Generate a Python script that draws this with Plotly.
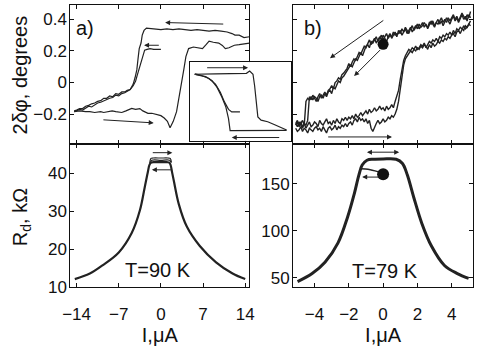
import plotly.graph_objects as go

# ---------------- panel a) : 2dphi vs I (T=90 K) ----------------
a_up_x = [14.7, 13.8, 13.0, 12.3, 11.8, 11.0, 10.0, 9.0, 8.0, 7.0, 6.0, 5.0, 4.0, 3.0, 2.0, 1.0, 0.0, -1.0, -2.0, -2.4,
          -2.8, -3.1, -3.3, -3.6, -3.8, -4.0, -4.3, -4.6, -5.1, -5.6, -6.0, -6.5, -7.0, -7.5, -8.0, -8.5, -9.0, -9.5,
          -10.0, -10.5, -11.0, -11.5, -12.0, -12.5, -13.0, -13.5, -14.0, -14.4]
a_up_y = [0.29, 0.285, 0.30, 0.30, 0.31, 0.32, 0.325, 0.33, 0.325, 0.33, 0.335, 0.33, 0.335, 0.34, 0.335, 0.34, 0.335,
          0.34, 0.345, 0.345, 0.33, 0.30, 0.25, 0.215, 0.15, 0.08, 0.03, -0.01, -0.045, -0.05, -0.06, -0.06, -0.075,
          -0.07, -0.09, -0.085, -0.10, -0.10, -0.115, -0.12, -0.13, -0.135, -0.145, -0.15, -0.165, -0.165, -0.175, -0.18]
a_minor_x = [-14.4, -14.0, -13.5, -13.0, -12.5, -12.0, -11.5, -11.0, -10.5, -10.0, -9.5, -9.0, -8.5, -8.0, -7.5, -7.0,
             -6.5, -6.0, -5.5, -5.1, -4.6, -4.2, -3.9, -3.6, -3.3, -3.0, -2.7, -2.3, -1.8, -1.2, -0.6, 0.0]
a_minor_y = [-0.185, -0.18, -0.17, -0.175, -0.16, -0.15, -0.155, -0.14, -0.13, -0.125, -0.115, -0.11, -0.10, -0.095,
             -0.08, -0.085, -0.07, -0.065, -0.055, -0.045, -0.02, 0.01, 0.05, 0.09, 0.14, 0.18, 0.205, 0.21, 0.215,
             0.21, 0.212, 0.21]
a_low_x = [-14.4, -13.5, -12.5, -11.8, -11.0, -10.0, -9.5, -9.0, -8.1, -7.5, -6.5, -5.8, -4.85, -4.2, -3.5, -3.0, -2.15,
           -1.5, -0.8, 0.0, 0.55, 1.08, 1.52, 2.05, 2.6, 3.0, 3.4, 3.8, 4.15, 4.6, 5.4, 5.9, 6.9, 7.5, 8.0, 8.7, 9.6,
           10.2, 10.7, 11.3, 12.2, 13.0, 13.8, 14.7]
a_low_y = [-0.185, -0.18, -0.185, -0.185, -0.19, -0.185, -0.19, -0.185, -0.18, -0.185, -0.19, -0.18, -0.164, -0.17,
           -0.165, -0.18, -0.195, -0.195, -0.2, -0.21, -0.225, -0.246, -0.287, -0.246, -0.185, -0.103, 0.0, 0.082,
           0.164, 0.215, 0.225, 0.221, 0.215, 0.24, 0.262, 0.255, 0.25, 0.235, 0.215, 0.22, 0.236, 0.24, 0.245, 0.25]

# inset of panel a) (arbitrary units)
in_top_x = [4.2, 15.0, 25.2, 40.0, 55.8, 59.0, 62.3, 63.9, 65.5, 67.1, 70.3, 76.8, 83.2, 89.7, 95.5]
in_top_y = [84.6, 85.2, 85.0, 85.5, 85.8, 88.8, 84.6, 70.0, 49.2, 30.4, 26.3, 24.2, 20.8, 16.7, 13.75]
in_bot_x = [95.5, 70.0, 39.7, 38.1, 35.5, 31.6, 26.8, 21.9, 15.5, 5.8]
in_bot_y = [13.3, 13.0, 12.9, 28.3, 42.9, 55.4, 67.9, 76.3, 81.7, 84.2]
in_min_x = [5.0, 10.6, 18.7, 25.2, 30.0, 34.2, 38.1, 41.3, 49.4]
in_min_y = [85.0, 83.3, 79.2, 72.1, 61.7, 49.2, 40.0, 36.7, 36.7]

# ---------------- panel b) : 2dphi vs I (T=79 K), sampled current grid ----------------
b_I = [-5.1, -5.0, -4.9, -4.8, -4.7, -4.6, -4.5, -4.4, -4.3, -4.2,
       -4.1, -4.0, -3.9, -3.8, -3.7, -3.6, -3.5, -3.4, -3.3, -3.2,
       -3.1, -3.0, -2.9, -2.8, -2.7, -2.6, -2.5, -2.4, -2.3, -2.2,
       -2.1, -2.0, -1.9, -1.8, -1.7, -1.6, -1.5, -1.4, -1.3, -1.2,
       -1.1, -1.0, -0.9, -0.8, -0.7, -0.6, -0.5, -0.4, -0.3, -0.2,
       -0.1, 0.0, 0.1, 0.2, 0.3, 0.4, 0.5, 0.6, 0.7, 0.8,
       0.9, 1.0, 1.1, 1.2, 1.3, 1.4, 1.5, 1.6, 1.7, 1.8,
       1.9, 2.0, 2.1, 2.2, 2.3, 2.4, 2.5, 2.6, 2.7, 2.8,
       2.9, 3.0, 3.1, 3.2, 3.3, 3.4, 3.5, 3.6, 3.7, 3.8,
       3.9, 4.0, 4.1, 4.2, 4.3, 4.4, 4.5, 4.6, 4.7, 4.8,
       4.9, 5.0, 5.1]
b_up1 = [-0.26, -0.28, -0.25, -0.27, -0.29, -0.26, -0.27, -0.24, -0.09, -0.11,
         -0.08, -0.10, -0.12, -0.09, -0.07, -0.10, -0.08, -0.06, -0.08, -0.05,
         -0.04, -0.02, -0.04, 0.00, 0.01, 0.03, 0.02, 0.05, 0.06, 0.08,
         0.09, 0.12, 0.10, 0.13, 0.15, 0.14, 0.17, 0.19, 0.18, 0.21,
         0.23, 0.22, 0.25, 0.27, 0.24, 0.26, 0.28, 0.25, 0.27, 0.29,
         0.27, 0.30, 0.28, 0.26, 0.29, 0.31, 0.28, 0.30, 0.32, 0.29,
         0.33, 0.31, 0.34, 0.32, 0.35, 0.33, 0.31, 0.34, 0.36, 0.33,
         0.35, 0.37, 0.34, 0.36, 0.38, 0.35, 0.37, 0.34, 0.36, 0.39,
         0.37, 0.35, 0.38, 0.40, 0.37, 0.39, 0.36, 0.38, 0.41, 0.39,
         0.37, 0.40, 0.42, 0.39, 0.41, 0.38, 0.40, 0.43, 0.40, 0.42,
         0.39, 0.43, 0.41]
b_up2 = [-0.27, -0.25, -0.28, -0.26, -0.24, -0.27, -0.12, -0.10, -0.11, -0.09,
         -0.11, -0.09, -0.10, -0.12, -0.09, -0.08, -0.10, -0.07, -0.09, -0.06,
         -0.05, -0.07, -0.03, -0.04, -0.01, 0.01, 0.00, 0.03, 0.04, 0.06,
         0.07, 0.09, 0.11, 0.10, 0.12, 0.15, 0.14, 0.16, 0.19, 0.17,
         0.20, 0.23, 0.24, 0.22, 0.26, 0.25, 0.27, 0.29, 0.26, 0.28,
         0.30, 0.27, 0.29, 0.31, 0.28, 0.30, 0.29, 0.32, 0.30, 0.31,
         0.31, 0.33, 0.30, 0.32, 0.34, 0.31, 0.33, 0.35, 0.32, 0.34,
         0.36, 0.34, 0.37, 0.35, 0.36, 0.38, 0.36, 0.35, 0.38, 0.37,
         0.39, 0.36, 0.38, 0.37, 0.39, 0.41, 0.38, 0.40, 0.38, 0.41,
         0.39, 0.41, 0.43, 0.40, 0.42, 0.39, 0.41, 0.44, 0.42, 0.40,
         0.43, 0.41, 0.45]
b_low1 = [-0.26, -0.24, -0.27, -0.25, -0.28, -0.26, -0.29, -0.27, -0.25, -0.28,
          -0.27, -0.25, -0.26, -0.28, -0.24, -0.26, -0.27, -0.25, -0.23, -0.26,
          -0.25, -0.27, -0.24, -0.26, -0.23, -0.25, -0.26, -0.23, -0.24, -0.22,
          -0.24, -0.22, -0.23, -0.21, -0.23, -0.20, -0.22, -0.21, -0.19, -0.21,
          -0.19, -0.18, -0.20, -0.17, -0.19, -0.18, -0.16, -0.18, -0.17, -0.15,
          -0.17, -0.16, -0.18, -0.15, -0.17, -0.16, -0.14, -0.16, -0.12, -0.09,
          -0.05, 0.02, 0.09, 0.14, 0.17, 0.19, 0.21, 0.20, 0.22, 0.21,
          0.23, 0.21, 0.22, 0.24, 0.23, 0.25, 0.22, 0.24, 0.26, 0.25,
          0.27, 0.26, 0.28, 0.26, 0.29, 0.28, 0.30, 0.29, 0.31, 0.30,
          0.32, 0.30, 0.33, 0.31, 0.34, 0.33, 0.35, 0.34, 0.33, 0.36,
          0.35, 0.37, 0.36]
b_low2 = [-0.29, -0.31, -0.30, -0.28, -0.31, -0.29, -0.30, -0.32, -0.29, -0.30,
          -0.31, -0.29, -0.28, -0.30, -0.29, -0.31, -0.28, -0.30, -0.32, -0.29,
          -0.28, -0.30, -0.29, -0.27, -0.30, -0.28, -0.29, -0.27, -0.28, -0.26,
          -0.28, -0.26, -0.25, -0.27, -0.24, -0.23, -0.25, -0.22, -0.24, -0.23,
          -0.25, -0.23, -0.26, -0.24, -0.29, -0.31, -0.28, -0.26, -0.24, -0.26,
          -0.25, -0.23, -0.25, -0.24, -0.22, -0.23, -0.21, -0.22, -0.20, -0.17,
          -0.12, -0.04, 0.05, 0.11, 0.15, 0.17, 0.18, 0.20, 0.19, 0.21,
          0.20, 0.22, 0.21, 0.23, 0.22, 0.24, 0.23, 0.21, 0.24, 0.22,
          0.25, 0.23, 0.24, 0.26, 0.25, 0.27, 0.26, 0.28, 0.27, 0.29,
          0.28, 0.30, 0.31, 0.29, 0.32, 0.33, 0.31, 0.34, 0.36, 0.34,
          0.35, 0.37, 0.39]
b_dot = (0.0, 0.242)

# ---------------- panel c) : Rd vs I, T=90 K ----------------
c_x = [-14.3, -11.8, -9.7, -7.0, -4.85, -3.5, -2.7, -2.16, -1.9, -1.6, -1.0, 0.0, 1.0, 1.4, 1.62, 1.85, 2.16, 2.97,
       4.3, 6.46, 9.16, 11.9, 14.0]
c_y = [12.2, 13.65, 15.8, 19.2, 24.3, 30.2, 36.2, 40.4, 42.2, 42.8, 42.9, 42.9, 42.9, 42.8, 42.1, 40.3, 37.9, 31.9,
       26.0, 20.9, 16.6, 13.65, 12.2]
c_top1_x = [-1.85, -1.65, -1.3, 0.0, 1.2, 1.55, 1.75]
c_top1_y = [42.6, 43.9, 44.0, 44.0, 44.0, 43.9, 42.8]
c_top2_x = [-1.75, -1.5, 0.0, 1.45, 1.65]
c_top2_y = [42.7, 43.4, 43.4, 43.4, 42.9]

# ---------------- panel d) : Rd vs I, T=79 K ----------------
d_x = [-4.99, -4.14, -3.39, -2.63, -2.07, -1.69, -1.41, -1.22, -0.94, -0.56, 0.0, 0.76, 1.13, 1.41, 1.79, 2.26, 2.82,
       3.58, 4.33, 4.99]
d_y = [45.9, 54.5, 66.5, 87.2, 114.8, 138.9, 159.6, 170.0, 175.1, 176.2, 176.5, 176.2, 171.7, 159.6, 135.5, 107.9,
       83.8, 63.1, 54.5, 49.3]
d_br_x = [-1.28, -1.03, -0.75, -0.47, -0.22, 0.0]
d_br_y = [166.0, 165.8, 165.1, 163.8, 162.4, 160.3]
d_dot = (0.0, 160.3)

# arrows: (tail_x, tail_y, head_x, head_y)
arrows_a = [(10.6, 0.37, 0.7, 0.38), (-0.1, 0.236, -2.8, 0.236), (-9.8, -0.236, -1.2, -0.256)]
arrows_in = [(15.5, 92.9, 57.4, 92.9), (89.7, 4.2, 41.3, 4.2)]
arrows_b = [(0.1, 0.40, -3.1, 0.154), (-0.09, 0.215, -1.69, 0.041), (-3.29, -0.345, 0.52, -0.345)]
arrows_c = [(-1.6, 45.4, 1.9, 45.4), (1.9, 40.9, -1.5, 40.9)]
arrows_d = [(-0.1, 157.2, -1.22, 157.2)]
arrows_d_both = [(-1.03, 183.7, 0.94, 183.7)]

W, H = 482, 347
FONT = "Liberation Sans"
LC = "#222222"

fig = go.Figure()


def add_line(x, y, xa, ya, w, shape="linear"):
    fig.add_trace(go.Scatter(x=x, y=y, mode="lines", line=dict(color=LC, width=w, shape=shape),
                             xaxis=xa, yaxis=ya, showlegend=False, hoverinfo="skip"))


# panel a
add_line(a_up_x, a_up_y, "x", "y", 1.2)
add_line(a_minor_x, a_minor_y, "x", "y", 1.2)
add_line(a_low_x, a_low_y, "x", "y", 1.2)
# panel b
for by in [b_up1, b_up2, b_low1, b_low2]:
    add_line(b_I, by, "x2", "y2", 1.4)
fig.add_trace(go.Scatter(x=[b_dot[0]], y=[b_dot[1]], mode="markers", marker=dict(color="#111", size=11),
                         xaxis="x2", yaxis="y2", showlegend=False, hoverinfo="skip"))
# panel c
add_line(c_x, c_y, "x3", "y3", 2.2, "spline")
add_line(c_top1_x, c_top1_y, "x3", "y3", 1.2, "spline")
add_line(c_top2_x, c_top2_y, "x3", "y3", 1.2, "spline")
# panel d
add_line(d_x, d_y, "x4", "y4", 3.0, "spline")
add_line(d_br_x, d_br_y, "x4", "y4", 1.5, "spline")
fig.add_trace(go.Scatter(x=[d_dot[0]], y=[d_dot[1]], mode="markers", marker=dict(color="#111", size=12),
                         xaxis="x4", yaxis="y4", showlegend=False, hoverinfo="skip"))
# inset (white background first)
fig.add_trace(go.Scatter(x=[0, 100, 100, 0, 0], y=[0, 0, 100, 100, 0], mode="lines", fill="toself",
                         fillcolor="white", line=dict(width=0, color="white"), xaxis="x5", yaxis="y5",
                         showlegend=False, hoverinfo="skip"))
add_line(in_top_x, in_top_y, "x5", "y5", 1.2)
add_line(in_bot_x, in_bot_y, "x5", "y5", 1.2)
add_line(in_min_x, in_min_y, "x5", "y5", 1.2)

xa_dom = [64 / W, 248 / W]
xb_dom = [293 / W, 478 / W]
ytop_dom = [(H - 148) / H, (H - 5) / H]
ybot_dom = [(H - 296) / H, (H - 148) / H]

tickfont = dict(family=FONT, size=17, color="#111")
tfont = dict(family=FONT, size=20, color="#111")
common = dict(showline=True, linecolor="#111", linewidth=1, mirror="ticks", ticks="inside", ticklen=4,
              tickwidth=1, tickcolor="#111", showgrid=False, zeroline=False, tickfont=tickfont)

xa_range = [-15.05, 14.68]
xb_range = [-5.25, 5.25]
yab_range = [-0.388, 0.492]
yab_vals = [-0.2, 0.0, 0.2, 0.4]
yab_text = ["\u22120.2", "0", "0.2", "0.4"]
xc_vals = [-14, -7, 0, 7, 14]
xc_text = ["\u221214", "\u22127", "0", "7", "14"]
xd_vals = [-4, -2, 0, 2, 4]
xd_text = ["\u22124", "\u22122", "0", "2", "4"]
xlabel = "I,\u03bcA"

fig.update_layout(
    width=W, height=H, autosize=False, margin=dict(l=0, r=0, t=0, b=0),
    paper_bgcolor="white", plot_bgcolor="white", hovermode=False,
    font=dict(family=FONT, color="#111"),
    xaxis=dict(domain=xa_dom, range=xa_range, anchor="y", tickvals=xc_vals, showticklabels=False, **common),
    yaxis=dict(domain=ytop_dom, range=yab_range, anchor="x", tickvals=yab_vals, ticktext=yab_text,
               ticklabelstandoff=-1, **common),
    xaxis2=dict(domain=xb_dom, range=xb_range, anchor="y2", tickvals=xd_vals, showticklabels=False, **common),
    yaxis2=dict(domain=ytop_dom, range=yab_range, anchor="x2", tickvals=yab_vals, showticklabels=False, **common),
    xaxis3=dict(domain=xa_dom, range=xa_range, anchor="y3", tickvals=xc_vals, ticktext=xc_text,
                ticklabelstandoff=11, title=dict(text=xlabel, font=tfont, standoff=2), **common),
    yaxis3=dict(domain=ybot_dom, range=[10, 47.75], anchor="x3", tickvals=[10, 20, 30, 40],
                ticklabelstandoff=-1, **common),
    xaxis4=dict(domain=xb_dom, range=xb_range, anchor="y4", tickvals=xd_vals, ticktext=xd_text,
                ticklabelstandoff=11, title=dict(text=xlabel, font=tfont, standoff=2), **common),
    yaxis4=dict(domain=ybot_dom, range=[39.7, 192.7], anchor="x4", tickvals=[50, 100, 150],
                ticklabelstandoff=-1, **common),
    xaxis5=dict(domain=[187 / W, 291 / W], range=[0, 100], anchor="y5", showline=True, mirror=True,
                linecolor="#111", linewidth=1, ticks="", showticklabels=False, showgrid=False, zeroline=False),
    yaxis5=dict(domain=[(H - 145) / H, (H - 64) / H], range=[0, 100], anchor="x5", showline=True, mirror=True,
                linecolor="#111", linewidth=1, ticks="", showticklabels=False, showgrid=False, zeroline=False),
)


def add_arrows(lst, xr, yr, both=False):
    for tx, ty, hx, hy in lst:
        fig.add_annotation(x=hx, y=hy, ax=tx, ay=ty, xref=xr, yref=yr, axref=xr, ayref=yr, text="",
                           showarrow=True, arrowhead=2, startarrowhead=2, arrowsize=1, startarrowsize=1,
                           arrowwidth=1, arrowcolor=LC, arrowside="end+start" if both else "end",
                           standoff=0, startstandoff=0)


add_arrows(arrows_a, "x", "y")
add_arrows(arrows_in, "x5", "y5")
add_arrows(arrows_b, "x2", "y2")
add_arrows(arrows_c, "x3", "y3")
add_arrows(arrows_d, "x4", "y4")
add_arrows(arrows_d_both, "x4", "y4", both=True)


def paper_text(txt, px, py, angle=0, xanchor="center"):
    fig.add_annotation(text=txt, x=px / W, y=(H - py) / H, xref="paper", yref="paper", showarrow=False,
                       textangle=angle, xanchor=xanchor, yanchor="middle", font=tfont)


paper_text("a)", 68, 29, xanchor="left")
paper_text("b)", 302, 29, xanchor="left")
paper_text("T=90 K", 154, 278)
paper_text("T=79 K", 387, 279)
paper_text("2\u03b4\u03c6, degrees", 12, 77, angle=-90)
paper_text("R<sub>d</sub>, k\u03a9", 14, 224, angle=-90)

fig.write_html("out.html")
